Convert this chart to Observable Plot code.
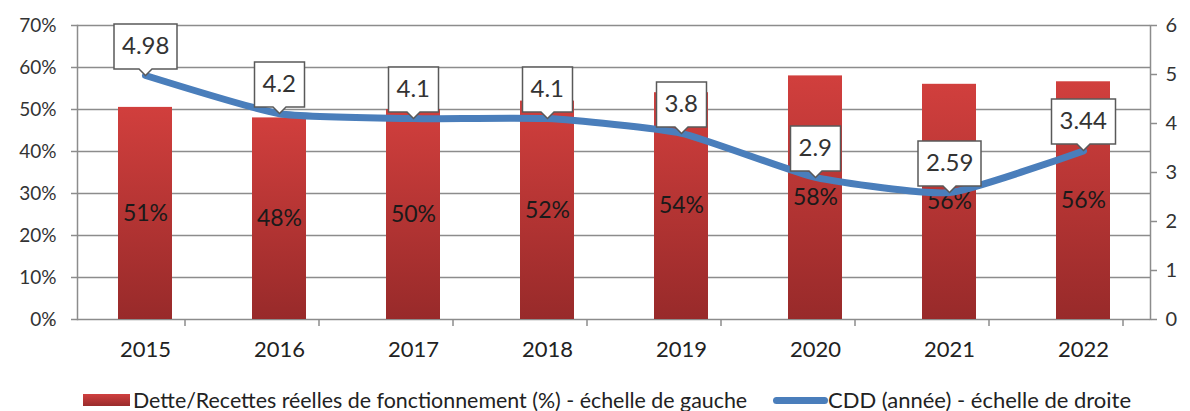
<!DOCTYPE html>
<html><head><meta charset="utf-8">
<script src="https://cdn.jsdelivr.net/npm/d3@7"></script>
<script src="https://cdn.jsdelivr.net/npm/@observablehq/plot@0.6"></script>
<style>
body{margin:0;background:#fff;font-family:Lato,"Open Sans",sans-serif;overflow:hidden;}
#chart svg{display:block;}
#legend{position:relative;height:31px;font-size:22px;color:#222;white-space:nowrap;}
#legend .item{position:absolute;top:9px;display:flex;align-items:center;line-height:22px;}
#legend .sw-bar{width:47px;height:12px;background:linear-gradient(#d04040,#9a2b2b);margin-right:3px;}
#legend .sw-line{width:55px;height:7px;border-radius:4px;background:#4a7ebb;margin-right:0px;}
#lg1{font-size:21.4px;}
</style></head><body>
<div id="chart"></div>
<div id="legend">
  <div class="item" style="left:83px"><span class="sw-bar"></span><span id="lg1"></span></div>
  <div class="item" style="left:773px"><span class="sw-line"></span><span id="lg2"></span></div>
</div>
<script>
const years = ["2015","2016","2017","2018","2019","2020","2021","2022"];
const debtRatio = [50.5, 48.0, 50.0, 52.0, 54.0, 58.0, 56.0, 56.6];
const debtLabels = ["51%","48%","50%","52%","54%","58%","56%","56%"];
const cdd = [4.98, 4.2, 4.1, 4.1, 3.8, 2.9, 2.59, 3.44];
const cddLabels = ["4.98","4.2","4.1","4.1","3.8","2.9","2.59","3.44"];
const leftTicks = [0,10,20,30,40,50,60,70];
const rightTicks = [0,1,2,3,4,5,6];
const legendLabels = ["Dette/Recettes réelles de fonctionnement (%) - échelle de gauche","CDD (année) - échelle de droite"];
const LEFT_MAX = 70, RIGHT_MAX = 6;
const k = LEFT_MAX / RIGHT_MAX;

document.getElementById("lg1").textContent = legendLabels[0];
document.getElementById("lg2").textContent = legendLabels[1];

const rows = years.map((year, i) => ({year, ratio: debtRatio[i], ratioLabel: debtLabels[i], cdd: cdd[i], cddScaled: cdd[i] * k, cddLabel: cddLabels[i]}));

const FONT = "Lato, 'Open Sans', sans-serif";
const GRID = "#8c8c8c";

function defsMark(index, scales, values, dims) {
  const g = d3.create("svg:g");
  const defs = g.append("defs");
  const grad = defs.append("linearGradient").attr("id", "barGrad")
    .attr("x1", 0).attr("y1", 0).attr("x2", 0).attr("y2", 1);
  grad.append("stop").attr("offset", "0%").attr("stop-color", "#d13f3d");
  grad.append("stop").attr("offset", "100%").attr("stop-color", "#982a2a");
  const f = defs.append("filter").attr("id", "barShadow").attr("x", "-20%").attr("y", "-5%").attr("width", "140%").attr("height", "110%");
  f.append("feDropShadow").attr("dx", 0).attr("dy", 0).attr("stdDeviation", 1.5).attr("flood-color", "#000").attr("flood-opacity", 0.25);
  return g.node();
}

function bandTicks(index, scales, values, dims) {
  const x = scales.x;
  const step = x(years[1]) - x(years[0]);
  const y0 = dims.height - dims.marginBottom;
  const g = d3.create("svg:g").attr("stroke", GRID).attr("stroke-width", 1.5);
  const bounds = years.map(y => x(y) - step / 2).concat([x(years[years.length - 1]) + step / 2]);
  for (const b of bounds) {
    g.append("line").attr("x1", b).attr("x2", b).attr("y1", y0).attr("y2", y0 + 7);
  }
  return g.node();
}

const chart = Plot.plot({
  width: 1190,
  height: 380,
  marginLeft: 77,
  marginRight: 40,
  marginTop: 25,
  marginBottom: 61,
  style: {fontFamily: FONT, background: "white", color: "#333"},
  x: {domain: years, paddingInner: 0.6, paddingOuter: 0.3, label: null},
  y: {domain: [0, LEFT_MAX], label: null},
  marks: [
    defsMark,
    Plot.gridY(leftTicks, {stroke: GRID, strokeOpacity: 1, strokeWidth: 1.5}),
    Plot.frame({anchor: "left", stroke: GRID, strokeWidth: 1.5}),
    Plot.frame({anchor: "right", stroke: GRID, strokeWidth: 1.5}),
    bandTicks,
    Plot.barY(rows, {x: "year", y: "ratio", fill: "url(#barGrad)", style: "filter:url(#barShadow)"}),
    Plot.text(rows, {x: "year", y: d => d.ratio / 2, text: "ratioLabel", fontSize: 23, fill: "#1a1a1a"}),
    Plot.line(rows, {x: "year", y: "cddScaled", stroke: "#4a7ebb", strokeWidth: 7, curve: "cardinal", tension: 0.5, strokeLinecap: "round"}),
    Plot.tip(rows, {x: "year", y: "cddScaled", title: "cddLabel", anchor: "bottom", fill: "white", stroke: "#595959", strokeWidth: 1.5, fontSize: 24, lineHeight: 1.1, fontFamily: FONT, textPadding: 8, pointerSize: 13, pathFilter: "none"}),
    Plot.axisY(leftTicks, {anchor: "left", tickFormat: d => d + "%", fontSize: 19, tickSize: 6, tickPadding: 15, stroke: GRID, fill: "#333", strokeWidth: 1.5, label: null}),
    Plot.axisY(rightTicks.map(v => v * k), {anchor: "right", tickFormat: d => String(Math.round(d / k)), fontSize: 20, tickSize: 6, tickPadding: 9, stroke: GRID, fill: "#333", strokeWidth: 1.5, label: null}),
    Plot.axisX({tickSize: 0, tickPadding: 22, fontSize: 22, fill: "#222", label: null})
  ]
});
document.getElementById("chart").appendChild(chart);
</script>
</body></html>
